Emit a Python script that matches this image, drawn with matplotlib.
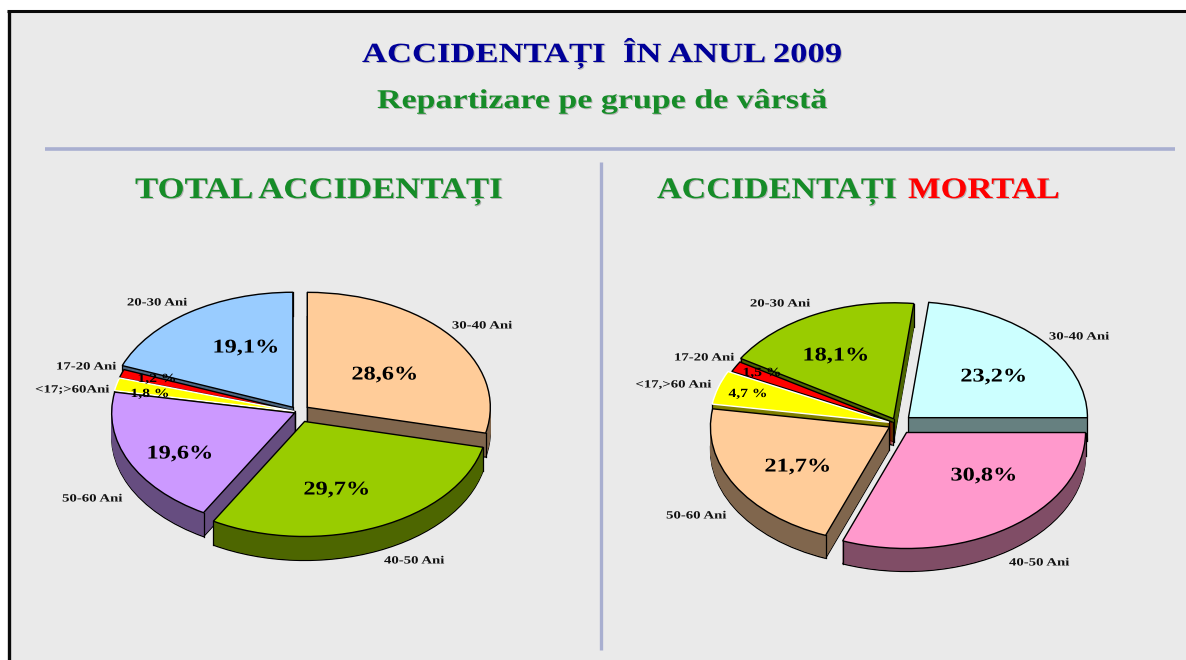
"""Two extruded, exploded pies: road casualties by age group, 2009."""
import numpy as np
import matplotlib
matplotlib.use("Agg")
import matplotlib.pyplot as plt
import matplotlib.patheffects as pe
from matplotlib.colors import to_rgb
from matplotlib.patches import Rectangle
from matplotlib.transforms import Affine2D

plt.rcParams["font.family"] = ["Liberation Serif", "DejaVu Serif"]

W, H = 1186, 660

TOTAL_VALUES = [28.6, 29.7, 19.6, 1.8, 1.2, 19.1]
TOTAL_GROUPS = ["30-40 Ani", "40-50 Ani", "50-60 Ani", "<17;>60Ani", "17-20 Ani", "20-30 Ani"]
TOTAL_PCT = ["28,6%", "29,7%", "19,6%", "1,8 %", "1,2 %", "19,1%"]

MORTAL_VALUES = [23.2, 30.8, 21.7, 4.7, 1.5, 18.1]
MORTAL_GROUPS = ["30-40 Ani", "40-50 Ani", "50-60 Ani", "<17,>60 Ani", "17-20 Ani", "20-30 Ani"]
MORTAL_PCT = ["23,2%", "30,8%", "21,7%", "4,7 %", "1,5 %", "18,1%"]

# layout, in reference pixels
TOTAL_STYLE = dict(
    center=(298, 412), rx=183, ry=115, depth=24, start=90,
    explode=[0.065, 0.09, 0.02, 0.02, 0.02, 0.05],
    colors=["#FFCC99", "#99CC00", "#CC99FF", "#FFFF00", "#FF0000", "#99CCFF"],
    group_xy=[(482, 326), (414, 561), (92, 499), (72, 390), (86, 367), (157, 303)],
    pct_xy=[(385, 375), (337, 490), (180, 454), (150, 394), (157, 379), (246, 348)],
)
MORTAL_STYLE = dict(
    center=(897.5, 424), rx=179, ry=116, depth=23, start=83.5,
    explode=[0.082, 0.089, 0.052, 0.05, 0.03, 0.05],
    colors=["#CCFFFF", "#FF99CC", "#FFCC99", "#FFFF00", "#FF0000", "#99CC00"],
    group_xy=[(1079, 337), (1039, 563), (696, 516), (673, 385), (704, 358), (780, 304)],
    pct_xy=[(994, 377), (984, 476), (798, 467), (748, 394), (762, 373), (836, 356)],
)
# back to front: 20-30, 30-40, 17-20, <17, 50-60, 40-50
STACK_RANK = [1, 5, 4, 3, 2, 0]

PANEL = "#EAEAEA"
RULE = "#A9AFD0"
GREEN = "#168C28"
NAVY = "#000099"


class Wide(pe.AbstractPathEffect):
    """Stretch text sideways from its left end, the reference type is extended."""

    def __init__(self, sx, shadow=None):
        super().__init__()
        self.sx = sx
        self.shadow = shadow

    def draw_path(self, renderer, gc, tpath, affine, rgbFace=None):
        wide = Affine2D().scale(self.sx, 1) + affine
        if self.shadow:
            gc0 = renderer.new_gc()
            gc0.copy_properties(gc)
            gc0.set_linewidth(0)
            renderer.draw_path(gc0, tpath, wide + Affine2D().translate(1, -1), to_rgb(self.shadow))
            gc0.restore()
        renderer.draw_path(gc, tpath, wide, rgbFace)


def dark(color):
    return tuple(c * 0.5 for c in to_rgb(color))


def draw_pie(fig, values, style):
    cx, cy = style["center"]
    rx, ry = style["rx"], style["ry"]
    ax = fig.add_axes([0, 0, 1, 1], zorder=2)
    sides = [dark(c) for c in style["colors"]]

    # side walls: the same pie repeated downwards, one pixel at a time
    for k in range(style["depth"], 0, -1):
        edge = "black" if k == style["depth"] else None
        wedges, _ = ax.pie(values, explode=style["explode"], colors=sides,
                           startangle=style["start"], counterclock=False,
                           center=(0, -k / ry))
        for j, w in enumerate(wedges):
            w.set_zorder(STACK_RANK[j] * 100 + style["depth"] - k)
            w.set_edgecolor(edge if edge else sides[j])
            w.set_linewidth(0.9 if edge else 0.4)

    wedges, _ = ax.pie(values, explode=style["explode"], colors=style["colors"],
                       startangle=style["start"], counterclock=False)
    for j, w in enumerate(wedges):
        z = STACK_RANK[j] * 100
        w.set_zorder(z + 60)
        w.set_edgecolor("white" if j == 3 else "black")
        w.set_linewidth(1.0)
        # vertical corners of the wall; the top face hides those at the back
        x0, y0 = w.center
        corners = [(x0, y0)]
        for t in (w.theta1, w.theta2):
            corners.append((x0 + np.cos(np.radians(t)), y0 + np.sin(np.radians(t))))
        for x, y in corners:
            ax.plot([x, x], [y, y - style["depth"] / ry], color="black", lw=0.9, zorder=z + 50)

    ax.set_aspect("auto")
    ax.set_xlim(-cx / rx, (W - cx) / rx)
    ax.set_ylim((cy - H) / ry, cy / ry)
    ax.axis("off")
    ax.patch.set_alpha(0)


def heading(ax, renderer, x0, x1, base, s, color, size):
    # fits the text between x0 and x1 of the reference
    t = ax.text(x0, base, s, color=color, fontsize=size, weight="bold", ha="left", va="baseline")
    sx = (x1 - x0) / t.get_window_extent(renderer).width
    t.set_path_effects([Wide(sx, shadow="#b4b4b4")])


def label(ax, renderer, x, y, s, size, sx, color="black"):
    t = ax.text(x, y, s, color=color, fontsize=size, weight="bold", ha="left", va="center")
    t.set_x(x - t.get_window_extent(renderer).width * sx / 2)
    t.set_path_effects([Wide(sx)])


def main():
    fig = plt.figure(figsize=(W / 100, H / 100), dpi=100, facecolor="white")
    renderer = fig.canvas.get_renderer()

    back = fig.add_axes([0, 0, 1, 1], zorder=1)
    back.set_xlim(0, W)
    back.set_ylim(H, 0)
    back.axis("off")
    back.add_patch(Rectangle((10, 12), W, H, facecolor=PANEL, edgecolor="none"))
    back.plot([8.5, 8.5], [H, 11], color="#0a0a0a", lw=2.4, solid_capstyle="butt")
    back.plot([7, W], [11.3, 11.3], color="#0a0a0a", lw=2.2, solid_capstyle="butt")
    back.plot([45, 1175], [149, 149], color=RULE, lw=2.6, solid_capstyle="butt")
    back.plot([600.5, 600.5], [162, 650], color=RULE, lw=2.4, solid_capstyle="butt")

    draw_pie(fig, TOTAL_VALUES, TOTAL_STYLE)
    draw_pie(fig, MORTAL_VALUES, MORTAL_STYLE)

    top = fig.add_axes([0, 0, 1, 1], zorder=3)
    top.set_xlim(0, W)
    top.set_ylim(H, 0)
    top.axis("off")
    top.patch.set_alpha(0)

    heading(top, renderer, 362, 841, 62, "ACCIDENTAȚI  ÎN ANUL 2009", NAVY, 20)
    heading(top, renderer, 377, 828, 108, "Repartizare pe grupe de vârstă", GREEN, 19.5)
    heading(top, renderer, 135, 503, 198, "TOTAL ACCIDENTAȚI", GREEN, 21.5)
    heading(top, renderer, 657, 897, 198, "ACCIDENTAȚI", GREEN, 21.5)
    heading(top, renderer, 908, 1060, 198, "MORTAL", "#FF0000", 21.5)

    for groups, pcts, style in ((TOTAL_GROUPS, TOTAL_PCT, TOTAL_STYLE),
                                (MORTAL_GROUPS, MORTAL_PCT, MORTAL_STYLE)):
        for s, (x, y) in zip(groups, style["group_xy"]):
            label(top, renderer, x, y, s, 8, 1.33, color="#111111")
        for s, (x, y) in zip(pcts, style["pct_xy"]):
            if s.endswith(" %"):
                label(top, renderer, x, y, s, 9, 1.25)
            else:
                label(top, renderer, x, y, s, 14, 1.25)

    fig.savefig("out.png", dpi=100, facecolor="white")


if __name__ == "__main__":
    main()
